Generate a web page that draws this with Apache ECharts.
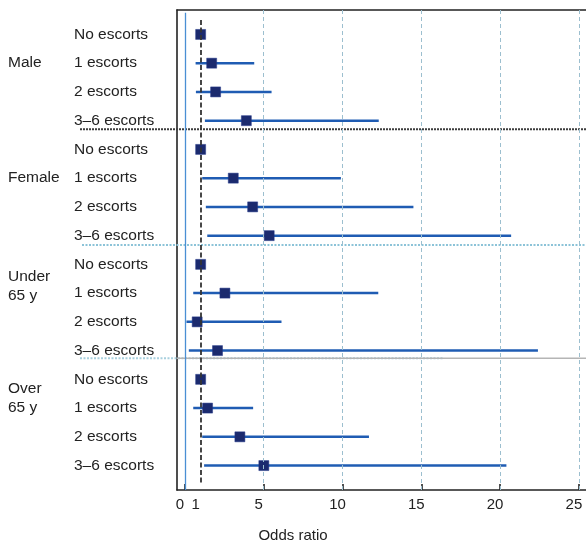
<!DOCTYPE html>
<html><head><meta charset="utf-8">
<script src="https://cdn.jsdelivr.net/npm/echarts@6/dist/echarts.min.js"></script>
<style>html,body{margin:0;padding:0;background:#fff}#c{width:586px;height:540px}</style>
</head><body><div id="c"></div>
<script>
// ---- data ----
const rowLabels = ['No escorts','1 escorts','2 escorts','3–6 escorts',
                   'No escorts','1 escorts','2 escorts','3–6 escorts',
                   'No escorts','1 escorts','2 escorts','3–6 escorts',
                   'No escorts','1 escorts','2 escorts','3–6 escorts'];
const groupLabels = ['Male','Female','Under\n65 y','Over\n65 y'];
const oddsRatio = [1.0,1.7,1.95,3.9,  1.0,3.07,4.3,5.35,  1.0,2.54,0.78,2.07,  1.0,1.44,3.49,5.01];
const ciLow     = [null,0.68,0.7,1.27, null,1.1,1.33,1.42, null,0.53,0.1,0.25, null,0.53,1.1,1.22];
const ciHigh    = [null,4.4,5.5,12.3,  null,9.9,14.5,20.7, null,12.27,6.13,22.4, null,4.33,11.68,20.4];
const xTickLabels = [0,1,5,10,15,20,25];
const xTickMarks = [0,5,10,15,20,25];
const gridLineValues = [5,10,15,20,25];
const referenceOR = 1;

// ---- layout (not data) ----
const groupLabelRows = [1, 5, 8.77, 12.67];
const separatorRows = [3.3, 7.33, 11.27];
const FONT = 'Liberation Sans';
const X_MIN = -0.5, X_MAX = 25.45, Y_MIN = -0.85, Y_MAX = 15.85;

const rows = rowLabels.map((_, i) => i);
const ciData = rows.filter(i => ciLow[i] != null).map(i => [ciLow[i], ciHigh[i], i]);
const pointData = rows.map(i => [oddsRatio[i], i]);

const chart = echarts.init(document.getElementById('c'), null, {renderer:'canvas'});
const frame = {color:'#222', width:1.6};

const option = {
  animation:false,
  backgroundColor:'#fff',
  textStyle:{fontFamily:FONT},
  title:{text:'Odds ratio', left:'center', top:523,
    textStyle:{fontFamily:FONT, fontSize:15, fontWeight:'normal', color:'#222'}},
  grid:{left:177, top:10, right:0, bottom:50},
  xAxis:[
    {type:'value', min:X_MIN, max:X_MAX, position:'bottom',
     axisLine:{show:true, onZero:false, lineStyle:frame},
     axisTick:{show:true, inside:true, length:6, customValues:xTickMarks, lineStyle:frame},
     axisLabel:{customValues:xTickLabels, fontSize:15, color:'#222', fontFamily:FONT, margin:7,
                padding:[0,10,0,0], showMinLabel:true, showMaxLabel:true},
     splitLine:{show:false}},
    {type:'value', min:X_MIN, max:X_MAX, position:'top',
     axisLine:{show:true, onZero:false, lineStyle:frame},
     axisTick:{show:false}, axisLabel:{show:false}, splitLine:{show:false}}
  ],
  yAxis:[
    {type:'value', inverse:true, min:Y_MIN, max:Y_MAX, position:'left',
     axisLine:{show:true, onZero:false, lineStyle:frame},
     axisTick:{show:false}, splitLine:{show:false},
     axisLabel:{customValues:rows, formatter:v => rowLabels[Math.round(v)] || '',
                align:'left', margin:103, fontSize:15.5, color:'#222', fontFamily:FONT}},
    {type:'value', inverse:true, min:Y_MIN, max:Y_MAX, position:'left',
     axisLine:{show:false}, axisTick:{show:false}, splitLine:{show:false},
     axisLabel:{customValues:groupLabelRows,
                formatter:v => {let b=0; groupLabelRows.forEach((r,i)=>{ if(Math.abs(r-v)<Math.abs(groupLabelRows[b]-v)) b=i;}); return groupLabels[b];},
                align:'left', margin:169, fontSize:15.5, lineHeight:19, color:'#222', fontFamily:FONT}}
  ],
  series:[
    {type:'custom', name:'sep', xAxisIndex:0, yAxisIndex:0, z:1, silent:true,
     data: separatorRows.map((r,i) => [i, r]),
     encode:{y:1},
     renderItem:(params, api) => {
       const idx = api.value(0);
       const y = api.coord([0, api.value(1)])[1];
       const cs = params.coordSys;
       const right = cs.x + cs.width;
       if (idx === 0) {
         return {type:'line', shape:{x1:80, y1:y, x2:right, y2:y},
                 style:{stroke:'#3d3d3d', lineWidth:2, lineDash:[2,1]}};
       } else if (idx === 1) {
         return {type:'line', shape:{x1:82, y1:y, x2:right, y2:y},
                 style:{stroke:'#8cc3d8', lineWidth:2, lineDash:[2,1.5]}};
       }
       return {type:'group', children:[
         {type:'line', shape:{x1:80, y1:y, x2:443, y2:y}, style:{stroke:'#a8d0de', lineWidth:2, lineDash:[2,1.5]}},
         {type:'line', shape:{x1:cs.x, y1:y, x2:right, y2:y}, style:{stroke:'#b5b5b5', lineWidth:1.5}}
       ]};
     }},
    {type:'scatter', name:'refs', z:2, symbolSize:0, data:[],
     markLine:{silent:true, symbol:'none', label:{show:false}, animation:false,
       data:[
         [{coord:[0, -0.75]}, {coord:[0, Y_MAX]}],
         ...gridLineValues.map(v => ({xAxis:v, lineStyle:{color:'#9cbfcf', width:1, type:[4,3]}})),
         [{coord:[referenceOR, -0.5], lineStyle:{color:'#333', width:1.8, type:[5,2.5]}},
          {coord:[referenceOR, 15.6]}]
       ],
       lineStyle:{color:'#4a8fd4', width:1.3, type:'solid'}}},
    {type:'custom', name:'ci', z:3, silent:true,
     data: ciData, encode:{x:[0,1], y:2},
     renderItem:(params, api) => {
       const a = api.coord([api.value(0), api.value(2)]);
       const b = api.coord([api.value(1), api.value(2)]);
       return {type:'line', shape:{x1:a[0], y1:a[1], x2:b[0], y2:b[1]},
               style:{stroke:'#1f5cb3', lineWidth:2.5}};
     }},
    {type:'scatter', name:'or', z:4, symbol:'rect', symbolSize:10,
     itemStyle:{color:'#1b2a6e', opacity:1, borderColor:'#24388a', borderWidth:0.5},
     data: pointData}
  ]
};
chart.setOption(option);
</script>
</body></html>
